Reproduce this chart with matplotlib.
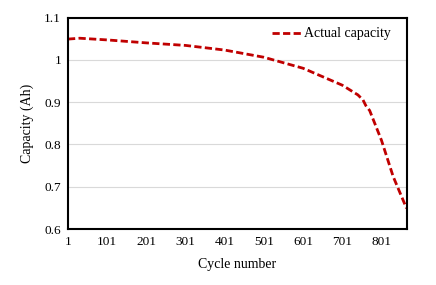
import matplotlib
matplotlib.use("Agg")
import matplotlib.pyplot as plt

cycles = [1, 31, 101, 201, 301, 401, 501, 601, 651, 701, 741, 754, 761, 771, 801, 831, 865]
capacity = [1.049, 1.051, 1.047, 1.040, 1.034, 1.023, 1.006, 0.980, 0.960, 0.940, 0.917, 0.905, 0.892, 0.880, 0.810, 0.724, 0.649]
xticks = [1, 101, 201, 301, 401, 501, 601, 701, 801]
yticks = [0.6, 0.7, 0.8, 0.9, 1.0, 1.1]
ytick_labels = ["0.6", "0.7", "0.8", "0.9", "1", "1.1"]

plt.rcParams['font.family'] = ['Liberation Serif', 'DejaVu Serif']
fig = plt.figure(figsize=(4.36, 2.85), dpi=100)
ax = fig.add_axes([68/436, 1-229/285, (406.5-68)/436, (229-17.5)/285])
ax.plot(cycles, capacity, color='#C00000', linestyle=(0, (2.6, 1.2)), linewidth=2.0, label='Actual capacity')
ax.set_xlim(1, 865)
ax.set_ylim(0.6, 1.1)
ax.set_xticks(xticks)
ax.set_yticks(yticks)
ax.set_yticklabels(ytick_labels)
ax.tick_params(length=0, labelsize=9.5, pad=5)
ax.yaxis.grid(True, color='#d9d9d9', linewidth=0.8)
ax.set_axisbelow(True)
for s in ax.spines.values():
    s.set_linewidth(1.5)
    s.set_color('black')
ax.set_xlabel('Cycle number', fontsize=10, labelpad=7.5)
ax.set_ylabel('Capacity (Ah)', fontsize=10, labelpad=7)
ax.legend(loc='center right', bbox_to_anchor=((391-68)/(406.5-68), 1-(34-17.5)/(229-17.5)),
          frameon=False, fontsize=10, handlelength=2.2, handletextpad=0.1, borderaxespad=0.0, borderpad=0.0)
fig.savefig('out.png', dpi=100)
